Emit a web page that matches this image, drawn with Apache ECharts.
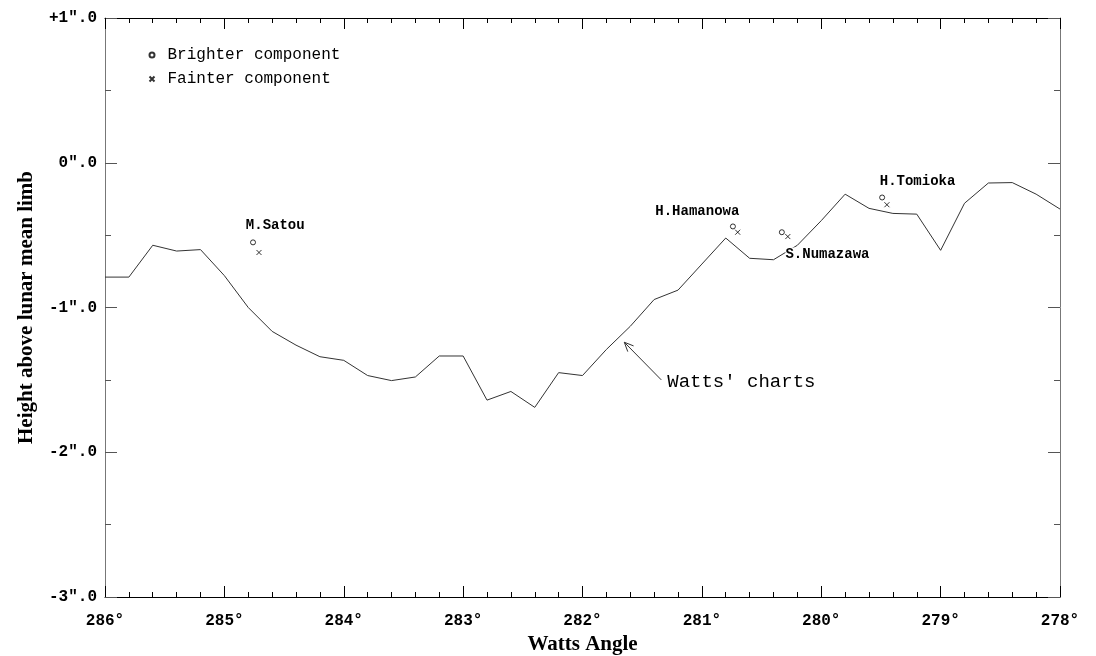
<!DOCTYPE html>
<html>
<head>
<meta charset="utf-8">
<script src="https://cdn.jsdelivr.net/npm/echarts@6/dist/echarts.min.js"></script>
<style>
  html, body { margin: 0; padding: 0; background: #fff; }
  #chart { width: 1096px; height: 656px; }
</style>
</head>
<body>
<div id="chart"></div>
<script>
// Watts' limb profile: Watts angle (deg) and height above the lunar mean limb (arcsec)
const wattsAngles = [286.0, 285.8, 285.6, 285.4, 285.2, 285.0, 284.8, 284.6, 284.4, 284.2,
                     284.0, 283.8, 283.6, 283.4, 283.2, 283.0, 282.8, 282.6, 282.4, 282.2,
                     282.0, 281.8, 281.6, 281.4, 281.2, 281.0, 280.8, 280.6, 280.4, 280.2,
                     280.0, 279.8, 279.6, 279.4, 279.2, 279.0, 278.8, 278.6, 278.4, 278.2,
                     278.0];
const wattsHeights = [-0.79, -0.79, -0.57, -0.61, -0.60, -0.78, -1.00, -1.165, -1.26, -1.34,
                      -1.365, -1.47, -1.505, -1.48, -1.335, -1.335, -1.64, -1.58, -1.69, -1.45,
                      -1.47, -1.29, -1.13, -0.945, -0.88, -0.70, -0.52, -0.66, -0.67, -0.57,
                      -0.40, -0.217, -0.315, -0.35, -0.355, -0.605, -0.28, -0.14, -0.137, -0.217,
                      -0.32];

// Observers and their timings of the two components
const observers = ['M.Satou', 'H.Hamanowa', 'S.Numazawa', 'H.Tomioka'];
const brighterAngles = [284.76, 280.74, 280.33, 279.49];
const brighterHeights = [-0.55, -0.44, -0.48, -0.24];
const fainterAngles = [284.71, 280.70, 280.28, 279.45];
const fainterHeights = [-0.62, -0.48, -0.51, -0.29];
// where each observer's name is written (angle, height of its left-middle point)
const observerLabelAngles = [284.82, 281.39, 280.30, 279.51];
const observerLabelHeights = [-0.43, -0.34, -0.633, -0.13];

// pointer to the profile
const pointerText = "Watts' charts";
const pointerTail = [281.34, -1.50];
const pointerTip = [281.65, -1.24];
const pointerTextAt = [281.29, -1.512];

// axis tick labels
const yTickLabels = { '1': '+1″.0', '0': '0″.0', '-1': '-1″.0', '-2': '-2″.0', '-3': '-3″.0' };

const MONO = "'Liberation Mono', 'DejaVu Sans Mono', monospace";
const SERIF = "'Liberation Serif', 'DejaVu Serif', serif";
const CROSS = 'path://M0,0L10,10M10,0L0,10';

const chart = echarts.init(document.getElementById('chart'), null, { renderer: 'canvas' });

function xAxisBase(pos) {
  return {
    type: 'value', min: 278, max: 286, interval: 1, inverse: true, position: pos,
    axisLine: { show: true, onZero: false, lineStyle: { color: '#000', width: 1 } },
    axisTick: { show: true, inside: true, length: 11, lineStyle: { color: '#000' } },
    minorTick: { show: true, splitNumber: 5, length: 5, lineStyle: { color: '#000' } },
    splitLine: { show: false },
    minorSplitLine: { show: false }
  };
}
function yAxisBase(pos) {
  return {
    type: 'value', min: -3, max: 1, interval: 1, position: pos,
    axisLine: { show: true, onZero: false, lineStyle: { color: '#777', width: 1 } },
    axisTick: { show: true, inside: true, length: 12, lineStyle: { color: '#555' } },
    minorTick: { show: true, splitNumber: 2, length: 6, lineStyle: { color: '#555' } },
    splitLine: { show: false },
    minorSplitLine: { show: false }
  };
}

const bottomX = Object.assign(xAxisBase('bottom'), {
  name: 'Watts Angle', nameLocation: 'middle', nameGap: 31,
  nameTextStyle: { fontFamily: SERIF, fontWeight: 'bold', fontSize: 21, color: '#000' },
  axisLabel: {
    show: true, margin: 16, color: '#000', fontFamily: MONO, fontWeight: 'bold', fontSize: 16,
    showMinLabel: true, showMaxLabel: true, hideOverlap: false,
    formatter: v => v + '°'
  }
});
const topX = Object.assign(xAxisBase('top'), { axisLabel: { show: false } });

const leftY = Object.assign(yAxisBase('left'), {
  name: 'Height above lunar mean limb', nameLocation: 'middle', nameGap: 68,
  nameTextStyle: { fontFamily: SERIF, fontWeight: 'bold', fontSize: 21, color: '#000' },
  axisLabel: {
    show: true, margin: 8, color: '#000', fontFamily: MONO, fontWeight: 'bold', fontSize: 16,
    showMinLabel: true, showMaxLabel: true,
    formatter: v => yTickLabels[String(v)]
  }
});
const rightY = Object.assign(yAxisBase('right'), { axisLabel: { show: false } });

const profile = wattsAngles.map((a, i) => [a, wattsHeights[i]]);
const brighter = brighterAngles.map((a, i) => [a, brighterHeights[i]]);
const fainter = fainterAngles.map((a, i) => [a, fainterHeights[i]]);
const nameSpots = observerLabelAngles.map((a, i) => [a, observerLabelHeights[i]]);

chart.setOption({
  animation: false,
  backgroundColor: '#fff',
  grid: { left: 105, right: 36, top: 18, bottom: 59, containLabel: false, outerBoundsMode: 'none' },
  xAxis: [bottomX, topX],
  yAxis: [leftY, rightY],
  legend: {
    show: true, orient: 'vertical', left: 142, top: 42,
    itemWidth: 5, itemHeight: 5, itemGap: 8,
    selectedMode: false,
    textStyle: { fontFamily: MONO, fontSize: 16, color: '#000', padding: [0, 0, 0, 8] },
    data: [
      { name: 'Brighter component', icon: 'circle' },
      { name: 'Fainter component', icon: CROSS }
    ]
  },
  series: [
    {
      name: "Watts' charts", type: 'line', xAxisIndex: 0, yAxisIndex: 0,
      data: profile, symbol: 'none', smooth: false,
      lineStyle: { color: '#333', width: 1 }, z: 2
    },
    {
      name: 'Brighter component', type: 'scatter', xAxisIndex: 0, yAxisIndex: 0,
      data: brighter, symbol: 'circle', symbolSize: 5,
      itemStyle: { color: '#fff', borderColor: '#000', borderWidth: 1 }, z: 4
    },
    {
      name: 'Fainter component', type: 'scatter', xAxisIndex: 0, yAxisIndex: 0,
      data: fainter, symbol: CROSS, symbolSize: 5,
      itemStyle: { color: 'none', borderColor: '#000', borderWidth: 1 }, z: 4
    },
    {
      // observer names
      type: 'custom', xAxisIndex: 0, yAxisIndex: 0, data: nameSpots, z: 5,
      renderItem: (params, api) => {
        const p = api.coord([api.value(0), api.value(1)]);
        return {
          type: 'text', x: p[0], y: p[1],
          style: {
            text: observers[params.dataIndex],
            font: "bold 14px " + MONO, fill: '#000',
            align: 'left', verticalAlign: 'middle',
            backgroundColor: '#fff'
          }
        };
      }
    },
    {
      // arrow pointing at the profile, with its caption
      type: 'custom', xAxisIndex: 0, yAxisIndex: 0,
      data: [[pointerTail[0], pointerTail[1], pointerTip[0], pointerTip[1], pointerTextAt[0], pointerTextAt[1]]],
      z: 5,
      renderItem: (params, api) => {
        const t = api.coord([api.value(0), api.value(1)]);
        const h = api.coord([api.value(2), api.value(3)]);
        const c = api.coord([api.value(4), api.value(5)]);
        const ang = Math.atan2(h[1] - t[1], h[0] - t[0]);
        const L = 10, spread = 0.42;
        const a1 = [h[0] - L * Math.cos(ang - spread), h[1] - L * Math.sin(ang - spread)];
        const a2 = [h[0] - L * Math.cos(ang + spread), h[1] - L * Math.sin(ang + spread)];
        const stroke = { stroke: '#333', lineWidth: 1, fill: null };
        return {
          type: 'group',
          children: [
            { type: 'line', shape: { x1: t[0], y1: t[1], x2: h[0], y2: h[1] }, style: stroke },
            { type: 'polyline', shape: { points: [a1, h, a2] }, style: stroke },
            {
              type: 'text', x: c[0], y: c[1],
              style: { text: pointerText, font: '19px ' + MONO, fill: '#000', align: 'left', verticalAlign: 'middle' }
            }
          ]
        };
      }
    }
  ]
});
</script>
</body>
</html>
